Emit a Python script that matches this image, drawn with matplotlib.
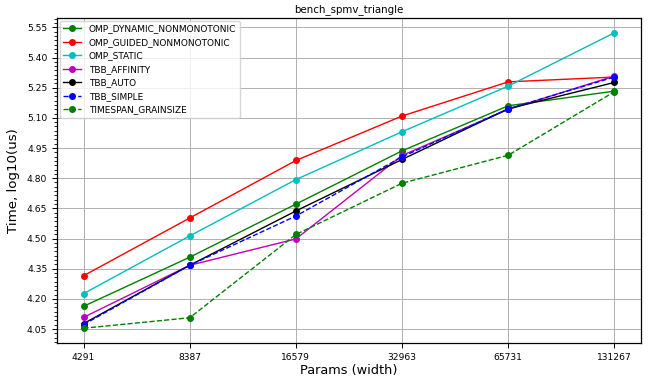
import numpy as np
import matplotlib
matplotlib.use("Agg")
import matplotlib.pyplot as plt
from matplotlib.ticker import AutoMinorLocator

# sizes of the benchmark (x) and log10 times (y)
params = ["4291", "8387", "16579", "32963", "65731", "131267"]

omp_dynamic_nonmonotonic = [4.163, 4.407, 4.671, 4.936, 5.160, 5.233]
omp_guided_nonmonotonic = [4.315, 4.602, 4.888, 5.109, 5.279, 5.303]
omp_static = [4.226, 4.513, 4.793, 5.031, 5.258, 5.523]
tbb_affinity = [4.108, 4.367, 4.498, 4.913, 5.142, 5.308]
tbb_auto = [4.077, 4.367, 4.637, 4.893, 5.145, 5.276]
tbb_simple = [4.072, 4.367, 4.612, 4.906, 5.145, 5.303]
timespan_grainsize = [4.054, 4.106, 4.520, 4.775, 4.914, 5.230]

yticks = [4.05, 4.20, 4.35, 4.50, 4.65, 4.80, 4.95, 5.10, 5.25, 5.40, 5.55]

series = [
    ("OMP_DYNAMIC_NONMONOTONIC", omp_dynamic_nonmonotonic, "g", "-"),
    ("OMP_GUIDED_NONMONOTONIC", omp_guided_nonmonotonic, "r", "-"),
    ("OMP_STATIC", omp_static, "c", "-"),
    ("TBB_AFFINITY", tbb_affinity, "m", "-"),
    ("TBB_AUTO", tbb_auto, "k", "-"),
    ("TBB_SIMPLE", tbb_simple, "b", "--"),
    ("TIMESPAN_GRAINSIZE", timespan_grainsize, "g", "--"),
]

fig = plt.figure(figsize=(6.5, 3.8), dpi=100)
ax = fig.add_axes([0.0877, 0.0974, 0.8983, 0.8552])

x = np.arange(len(params))
for name, vals, col, ls in series:
    ax.plot(x, vals, color=col, linestyle=ls, marker="o", markersize=4,
            linewidth=1.0, label=name)

ax.set_xticks(x)
ax.set_xticklabels(params)
ax.set_yticks(yticks)
ax.set_yticklabels(["%.2f" % v for v in yticks])
ax.yaxis.set_minor_locator(AutoMinorLocator(7))
ax.tick_params(labelsize=6.6)
ax.tick_params(axis="both", which="major", length=3.5, width=0.7)
ax.tick_params(axis="y", which="minor", length=2, width=0.6)
for sp in ax.spines.values():
    sp.set_linewidth(0.9)

ax.grid(True, which="major", color="#b0b0b0", linewidth=0.7)
ax.set_title("bench_spmv_triangle", fontsize=7.4, pad=4)
ax.set_xlabel("Params (width)", fontsize=9.3, labelpad=2)
ax.set_ylabel("Time, log10(us)", fontsize=9.6, labelpad=5)
ax.legend(loc="upper left", fontsize=6.5, borderaxespad=0.3, handlelength=2.0)

fig.savefig("out.png", dpi=100)
